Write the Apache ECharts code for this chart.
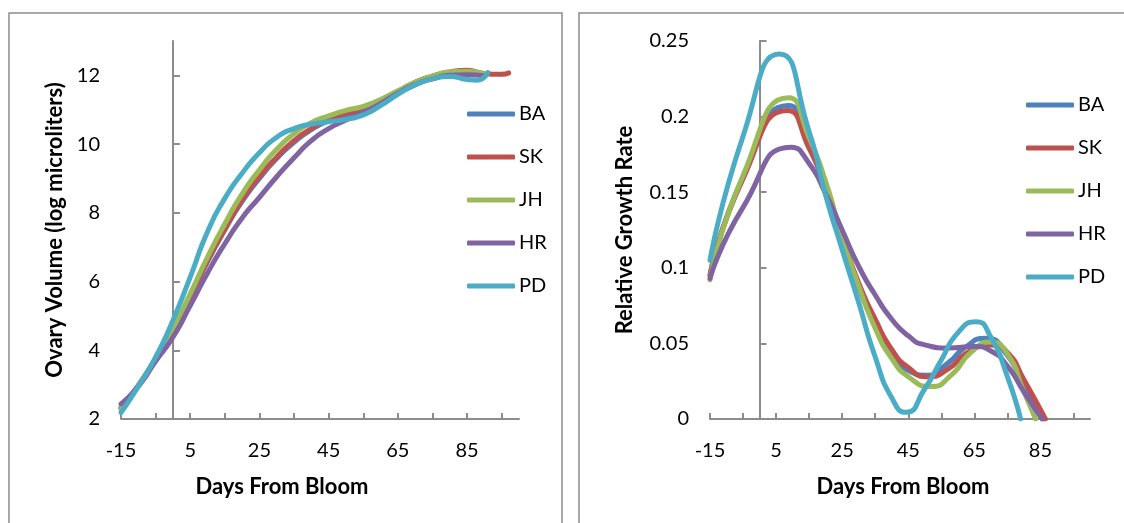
<!DOCTYPE html>
<html>
<head>
<meta charset="utf-8">
<script src="https://cdn.jsdelivr.net/npm/echarts@6/dist/echarts.min.js"></script>
<style>
  html, body { margin: 0; padding: 0; background: #fff; }
  #main { width: 1124px; height: 523px; }
</style>
</head>
<body>
<div id="main"></div>
<script>
// days from bloom
const days = [-15, -10, -5, 0, 5, 10, 15, 20, 25, 30, 35, 40, 45, 50, 55, 60, 65, 70, 75, 80, 85, 90];
const daysSK = [-15, -10, -5, 0, 5, 10, 15, 20, 25, 30, 35, 40, 45, 50, 55, 60, 65, 70, 75, 80, 85, 90, 95, 97];
const daysPD = [-15, -10, -5, 0, 5, 10, 15, 20, 25, 30, 35, 40, 45, 50, 55, 60, 65, 70, 75, 80, 85, 88, 91];

// ovary volume (log microliters)
const volBA = [2.3, 2.97, 3.75, 4.6, 5.55, 6.58, 7.5, 8.33, 9.0, 9.58, 10.05, 10.42, 10.68, 10.85, 11.0, 11.25, 11.53, 11.78, 11.95, 12.05, 12.05, 12.0];
const volSK = [2.33, 2.98, 3.76, 4.6, 5.56, 6.6, 7.52, 8.38, 9.05, 9.62, 10.1, 10.45, 10.73, 10.9, 11.02, 11.25, 11.53, 11.8, 11.98, 12.1, 12.15, 12.05, 12.03, 12.07];
const volJH = [2.3, 2.97, 3.75, 4.62, 5.64, 6.71, 7.68, 8.55, 9.25, 9.85, 10.3, 10.62, 10.82, 10.98, 11.1, 11.3, 11.55, 11.8, 11.98, 12.1, 12.12, 12.05];
const volHR = [2.44, 2.95, 3.68, 4.38, 5.3, 6.25, 7.1, 7.85, 8.45, 9.05, 9.6, 10.1, 10.45, 10.7, 10.92, 11.18, 11.48, 11.73, 11.9, 12.0, 12.02, 11.98];
const volPD = [2.19, 2.95, 3.8, 4.87, 6.13, 7.45, 8.42, 9.15, 9.75, 10.2, 10.45, 10.58, 10.65, 10.72, 10.85, 11.12, 11.45, 11.72, 11.9, 11.97, 11.88, 11.86, 12.08];

// relative growth rate: days read at the turning points of each curve
const rgrDaysBA = [-15, -5, 8.7, 15, 20, 25, 30, 35, 40, 45, 50.5, 57, 62, 68.3, 75, 80, 86];
const rgrDaysSK = [-15, -5, 8.4, 15, 20, 25, 30, 35, 40, 45, 51, 57, 63, 70, 75, 80, 86.5];
const rgrDaysJH = [-15, -5, 8.8, 15, 20, 25, 30, 35, 40, 45, 51.9, 58, 64, 69.8, 75, 80, 83.5];
const rgrDaysHR = [-15, -5, 9.6, 15, 20, 25, 30, 35, 40, 45, 50, 57, 65, 70, 75, 80, 85.5];
const rgrDaysPD = [-15, -5, 6, 15, 20, 25, 30, 35, 40, 44.3, 50, 55, 60, 65.5, 70, 75, 79];

const rgrBA = [0.095, 0.16, 0.2073, 0.181, 0.152, 0.118, 0.087, 0.062, 0.043, 0.032, 0.029, 0.037, 0.047, 0.0534, 0.042, 0.021, 0];
const rgrSK = [0.095, 0.159, 0.204, 0.179, 0.153, 0.12, 0.09, 0.066, 0.046, 0.034, 0.028, 0.033, 0.044, 0.049, 0.044, 0.026, 0];
const rgrJH = [0.092, 0.161, 0.2124, 0.186, 0.157, 0.12, 0.088, 0.06, 0.04, 0.028, 0.0215, 0.029, 0.044, 0.051, 0.043, 0.018, 0];
const rgrHR = [0.093, 0.14, 0.1798, 0.169, 0.149, 0.125, 0.101, 0.082, 0.066, 0.055, 0.049, 0.047, 0.048, 0.045, 0.035, 0.018, 0];
const rgrPD = [0.105, 0.187, 0.2414, 0.19, 0.148, 0.112, 0.077, 0.041, 0.014, 0.0044, 0.02, 0.039, 0.057, 0.0644, 0.054, 0.028, 0];

// ticks / labels
const xTicks = [-15, -5, 5, 15, 25, 35, 45, 55, 65, 75, 85, 95];
const xLabels = [-15, 5, 25, 45, 65, 85];
const volTicks = [2, 4, 6, 8, 10, 12];
const rgrTicks = [0, 0.05, 0.1, 0.15, 0.2, 0.25];

const names = ['BA', 'SK', 'JH', 'HR', 'PD'];
const colors = ['#4F81BD', '#C0504D', '#9BBB59', '#8064A2', '#4BACC6'];

const FONT = 'Lato';
const AXIS_COLOR = '#8c8c8c';

function pairs(xs, ys) {
    return xs.map((x, i) => [x, ys[i]]);
}

const leftData = [pairs(days, volBA), pairs(daysSK, volSK), pairs(days, volJH), pairs(days, volHR), pairs(daysPD, volPD)];
const rightData = [pairs(rgrDaysBA, rgrBA), pairs(rgrDaysSK, rgrSK), pairs(rgrDaysJH, rgrJH), pairs(rgrDaysHR, rgrHR), pairs(rgrDaysPD, rgrPD)];

function xAxisOf(gridIndex) {
    return {
        type: 'value', gridIndex: gridIndex, min: -15, max: 100,
        axisLine: {onZero: false, lineStyle: {color: AXIS_COLOR, width: 2}},
        axisTick: {inside: true, length: 6, customValues: xTicks, lineStyle: {color: AXIS_COLOR, width: 2}},
        axisLabel: {customValues: xLabels, margin: 22, color: '#000', fontSize: 20, fontFamily: FONT},
        splitLine: {show: false}
    };
}

function yAxisOf(gridIndex, min, max, ticks) {
    return {
        type: 'value', gridIndex: gridIndex, min: min, max: max,
        axisLine: {show: true, onZero: true, lineStyle: {color: AXIS_COLOR, width: 2}},
        axisTick: {inside: true, length: 7, customValues: ticks, lineStyle: {color: AXIS_COLOR, width: 2}},
        axisLabel: {customValues: ticks, margin: 21, color: '#000', fontSize: 20, fontFamily: FONT, hideOverlap: false},
        splitLine: {show: false}
    };
}

function legendOf(left, top) {
    return {
        orient: 'vertical', left: left, top: top,
        data: names, icon: 'roundRect',
        itemWidth: 48, itemHeight: 5, itemGap: 23,
        textStyle: {fontSize: 20, fontFamily: FONT, color: '#000', padding: [0, 0, 0, -1]},
        selectedMode: false
    };
}

const series = [];
[leftData, rightData].forEach((group, g) => {
    group.forEach((d, i) => {
        series.push({
            name: names[i], type: 'line',
            xAxisIndex: g, yAxisIndex: g,
            data: d, smooth: 0.6, showSymbol: false, symbol: 'none',
            lineStyle: {color: colors[i], width: 5, cap: 'round'},
            itemStyle: {color: colors[i]},
            animation: false
        });
    });
});

const myChart = echarts.init(document.getElementById('main'));
myChart.setOption({
    backgroundColor: '#fff',
    animation: false,
    grid: [
        {left: 121, top: 41, width: 398, height: 378},
        {left: 710, top: 41, width: 380, height: 378}
    ],
    xAxis: [xAxisOf(0), xAxisOf(1)],
    yAxis: [
        yAxisOf(0, 2, 13, volTicks),
        yAxisOf(1, 0, 0.25, rgrTicks)
    ],
    legend: [legendOf(462, 99), legendOf(1021, 90)],
    graphic: [
        // panel frames
        {type: 'rect', shape: {x: 9, y: 13, width: 553, height: 530}, style: {fill: 'none', stroke: AXIS_COLOR, lineWidth: 1.5}, z: -1},
        {type: 'rect', shape: {x: 579, y: 13, width: 560, height: 530}, style: {fill: 'none', stroke: AXIS_COLOR, lineWidth: 1.5}, z: -1},
        // axis titles
        {type: 'text', x: 55, y: 230, rotation: Math.PI / 2,
            style: {text: 'Ovary Volume (log microliters)', font: 'bold 22px Lato', fill: '#000', align: 'center', verticalAlign: 'middle'}},
        {type: 'text', x: 282, y: 487,
            style: {text: 'Days From Bloom', font: 'bold 22px Lato', fill: '#000', align: 'center', verticalAlign: 'middle'}},
        {type: 'text', x: 625, y: 230, rotation: Math.PI / 2,
            style: {text: 'Relative Growth Rate', font: 'bold 22px Lato', fill: '#000', align: 'center', verticalAlign: 'middle'}},
        {type: 'text', x: 903, y: 487,
            style: {text: 'Days From Bloom', font: 'bold 22px Lato', fill: '#000', align: 'center', verticalAlign: 'middle'}}
    ],
    series: series
});
</script>
</body>
</html>
